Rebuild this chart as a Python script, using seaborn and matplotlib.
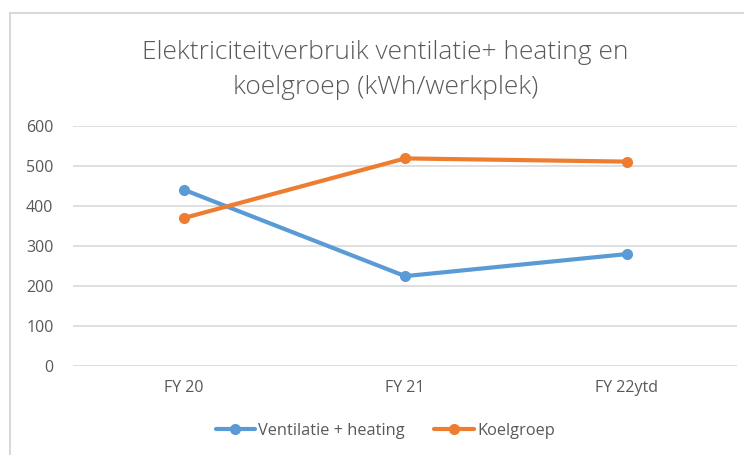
import pandas as pd
import seaborn as sns
import matplotlib.pyplot as plt
from matplotlib.patches import Rectangle

# data
years = ["FY 20", "FY 21", "FY 22ytd"]
ventilatie = [440, 224, 279]
koelgroep = [369, 518, 510]
series_names = ["Ventilatie + heating", "Koelgroep"]
colors = ["#5B9BD5", "#ED7D31"]

df = pd.DataFrame({
  "jaar": years * 2,
  "kwh": ventilatie + koelgroep,
  "serie": [series_names[0]] * 3 + [series_names[1]] * 3,
})

sns.set_theme(style="white")
plt.rcParams["font.family"] = ["Open Sans", "DejaVu Sans"]
grey = "#595959"

fig = plt.figure(figsize=(7.44, 4.55), dpi=100)
ax = fig.add_axes([0.098, 0.196, 0.893, 0.528])

sns.lineplot(data=df, x="jaar", y="kwh", hue="serie", palette=colors,
             marker="o", markersize=8, markeredgewidth=0, linewidth=3,
             sort=False, ax=ax)

ax.set_xlim(-0.5, 2.5)
ax.set_ylim(0, 600)
ax.set_yticks(range(0, 601, 100))
ax.yaxis.grid(True, color="#d9d9d9", linewidth=1.2)
ax.set_axisbelow(True)
for s in ax.spines.values():
  s.set_visible(False)
ax.set_xlabel("")
ax.set_ylabel("")
ax.tick_params(axis="both", length=0, labelsize=11.5, colors=grey)
ax.tick_params(axis="y", pad=14)
ax.tick_params(axis="x", pad=10)

fig.text(0.518, 0.846, "Elektriciteitverbruik ventilatie+ heating en\nkoelgroep (kWh/werkplek)",
         ha="center", va="center", fontsize=19, color=grey, linespacing=1.5,
         fontweight="light")

leg = ax.legend(loc="center", bbox_to_anchor=(0.47, -0.27), ncol=2, frameon=False,
                fontsize=11.8, handlelength=2.4, handletextpad=0.2, columnspacing=1.8)
for t in leg.get_texts():
  t.set_color(grey)

# chart frame
fig.patches.append(Rectangle((10 / 744, -0.1), 1.2, 1 - 13 / 455 + 0.1,
                             transform=fig.transFigure, fill=False,
                             edgecolor="#d9d9d9", linewidth=1.5))

fig.savefig("out.png", dpi=100)
